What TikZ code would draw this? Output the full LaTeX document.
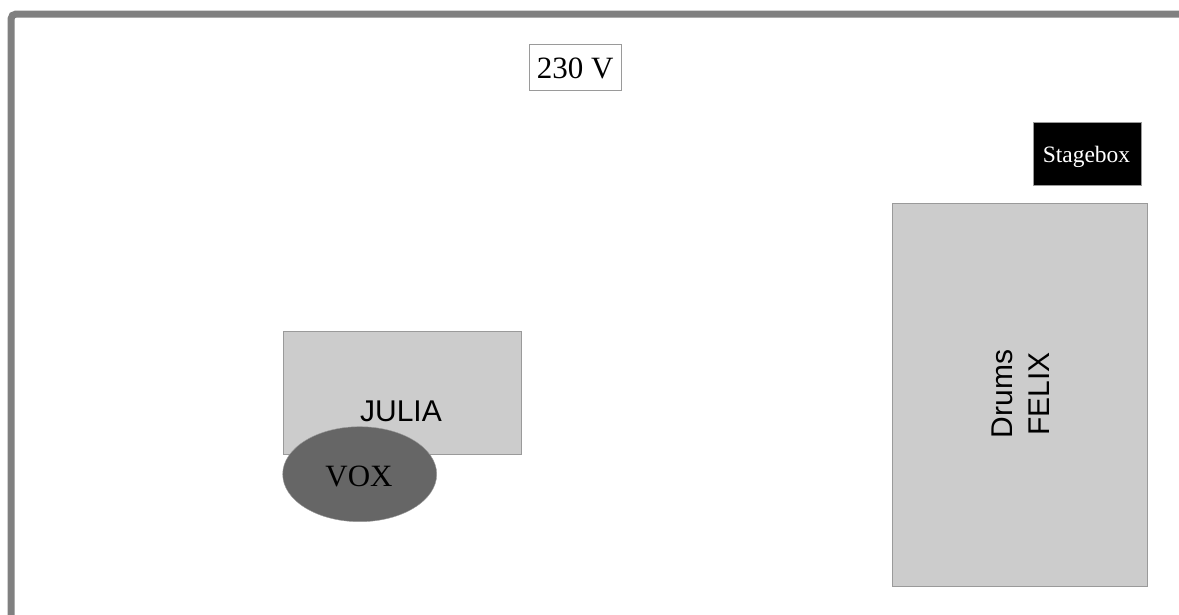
\documentclass[tikz,border=0pt]{standalone}
\usepackage{fontspec}
\setmainfont{Liberation Serif}
\setsansfont{Liberation Sans}
\definecolor{wallgray}{HTML}{808080}
\definecolor{edgegray}{HTML}{9A9A9A}
\definecolor{boxgray}{HTML}{CCCCCC}
\definecolor{voxgray}{HTML}{666666}
\begin{document}
\begin{tikzpicture}[x=1pt,y=-1pt]
    \useasboundingbox (0,0) rectangle (1179,614);
    % stage wall
    \draw[line width=7, draw=wallgray, rounded corners=5] (11,625) -- (11,14) -- (1190,14);

    \draw[thin, draw=edgegray, fill=white] (529.5,44.5) rectangle (621,90.5); \node[anchor=base] (power) at (575.3,78.3) {\fontsize{31}{37}\selectfont 230 V};
    \filldraw[thin, draw=edgegray, fill=black] (1032.7,121.7) rectangle (1140.7,185); \node[anchor=base, text=white] (stagebox) at (1086.5,162.3) {\fontsize{23.5}{28}\selectfont Stagebox};

    \filldraw[thin, draw=edgegray, fill=boxgray] (892,203.3) rectangle (1147,586); \node[rotate=90, align=center, font=\sffamily\fontsize{30}{36.5}\selectfont] (drums) at (1020.5,394) {Drums\\FELIX};

    \filldraw[thin, draw=edgegray, fill=boxgray] (283.3,330.7) rectangle (520.7,454); \node[anchor=base] (julia) at (401,421.7) {\sffamily\fontsize{30}{36}\selectfont JULIA};
    \filldraw[thin, draw=edgegray, fill=voxgray] (359.7,474.2) ellipse (77 and 47.5); \node[anchor=base] (vox) at (359,486) {\fontsize{31}{37}\selectfont VOX};
\end{tikzpicture}
\end{document}
